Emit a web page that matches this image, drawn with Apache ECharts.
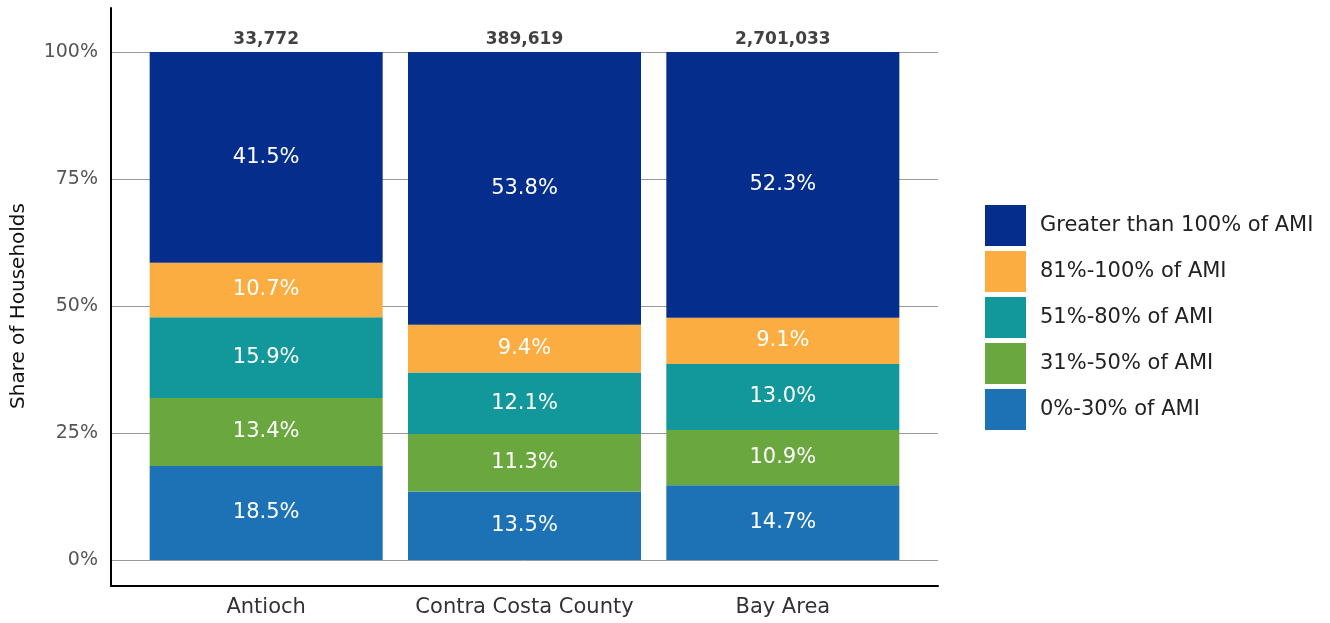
<!DOCTYPE html>
<html>
<head>
<meta charset="utf-8">
<script src="https://cdn.jsdelivr.net/npm/echarts@6/dist/echarts.min.js"></script>
<style>html,body{margin:0;padding:0;background:#fff}#c{width:1330px;height:623px}</style>
</head>
<body>
<div id="c"></div>
<script>
const categories = ['Antioch', 'Contra Costa County', 'Bay Area'];
const totals = ['33,772', '389,619', '2,701,033'];
const seriesNames = ['0%-30% of AMI', '31%-50% of AMI', '51%-80% of AMI', '81%-100% of AMI', 'Greater than 100% of AMI'];
const ami0_30 = [18.5, 13.5, 14.7];
const ami31_50 = [13.4, 11.3, 10.9];
const ami51_80 = [15.9, 12.1, 13.0];
const ami81_100 = [10.7, 9.4, 9.1];
const amiOver100 = [41.5, 53.8, 52.3];
const yTicks = [0, 25, 50, 75, 100];

const colors = ['#1c72b4', '#6aa83f', '#12989a', '#fbad41', '#052e8c'];
const FONT = 'DejaVu Sans';
const seriesData = [ami0_30, ami31_50, ami51_80, ami81_100, amiOver100];
const stackTops = categories.map((_, i) => seriesData.reduce((s, arr) => s + arr[i], 0));

const chart = echarts.init(document.getElementById('c'), null, {renderer: 'canvas'});
const series = seriesData.map((d, k) => ({
  name: seriesNames[k],
  type: 'bar',
  stack: 'ami',
  xAxisIndex: 0, yAxisIndex: 0,
  barWidth: 233,
  itemStyle: {color: colors[k]},
  label: {show: true, position: 'inside', color: '#fff', fontFamily: FONT, fontSize: 21,
          formatter: p => p.value.toFixed(1) + '%'},
  emphasis: {disabled: true},
  data: d
}));
series.push({
  name: 'Total', type: 'scatter', xAxisIndex: 0, yAxisIndex: 0,
  symbolSize: 0, silent: true, clip: false,
  label: {show: true, position: 'top', distance: 4, color: '#111', fontFamily: FONT, fontSize: 17, fontWeight: 'bold',
          formatter: p => totals[p.dataIndex]},
  data: stackTops.map(v => Math.min(v, 100))
});

chart.setOption({
  animation: false,
  backgroundColor: '#fff',
  grid: [
    {left: 137, right: 418, top: 52, bottom: 63},
    {left: 111, right: 392, top: 52, bottom: 63},
    {left: 111, right: 392, top: 8, bottom: 37}
  ],
  xAxis: [
    {type: 'category', gridIndex: 0, data: categories,
     axisLine: {show: false}, axisTick: {show: false},
     axisLabel: {interval: 0, margin: 37, color: '#333', fontFamily: FONT, fontSize: 21}},
    {type: 'value', gridIndex: 1, show: false, min: 0, max: 1},
    {type: 'value', gridIndex: 2, min: 0, max: 1, splitLine: {show: false}, axisTick: {show: false},
     axisLabel: {show: false}, axisLine: {show: true, lineStyle: {color: '#000', width: 2}}}
  ],
  yAxis: [
    {type: 'value', gridIndex: 0, min: 0, max: 100, interval: 25, show: false},
    {type: 'value', gridIndex: 1, min: 0, max: 100, interval: 25,
     axisLine: {show: false}, axisTick: {show: false},
     splitLine: {show: true, lineStyle: {color: '#9a9a9a', width: 1}},
     axisLabel: {margin: 13, color: '#555', fontFamily: FONT, fontSize: 19,
                 customValues: yTicks, formatter: v => v + '%'},
     name: 'Share of Households', nameLocation: 'middle', nameGap: 82, nameRotate: 90,
     nameTextStyle: {color: '#111', fontFamily: FONT, fontSize: 20}},
    {type: 'value', gridIndex: 2, min: 0, max: 1, splitLine: {show: false}, axisTick: {show: false},
     axisLabel: {show: false}, axisLine: {show: true, lineStyle: {color: '#000', width: 2}}}
  ],
  legend: {
    orient: 'vertical', left: 985, top: 205, padding: 0,
    data: seriesNames.slice().reverse(),
    itemWidth: 41, itemHeight: 41, itemGap: 5,
    icon: 'rect',
    selectedMode: false,
    textStyle: {color: '#222', fontFamily: FONT, fontSize: 21, padding: [0, 0, 0, 9]}
  },
  series: series
});
</script>
</body>
</html>
